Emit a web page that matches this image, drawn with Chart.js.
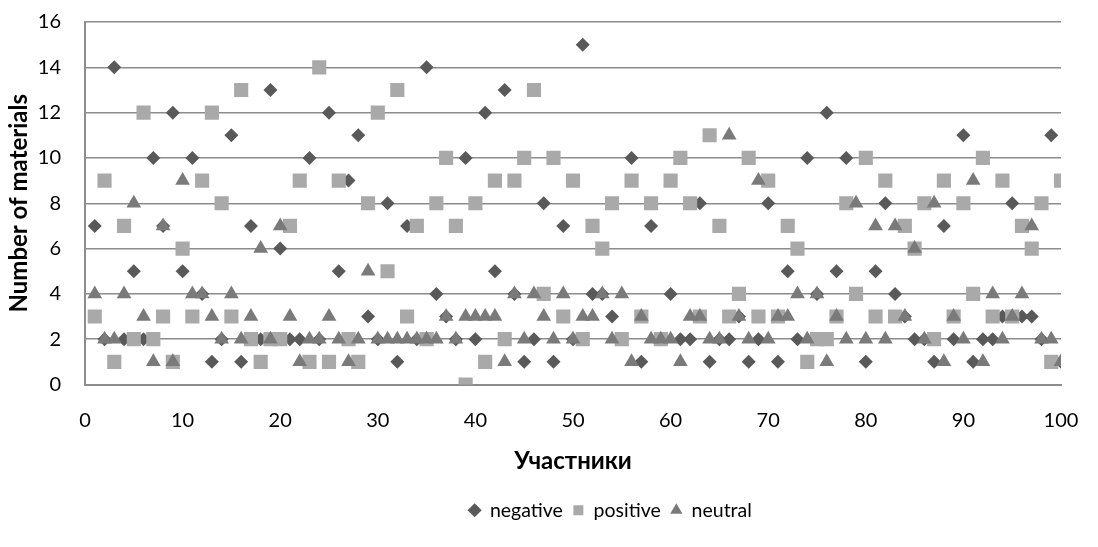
<!DOCTYPE html>
<html>
<head>
<meta charset="utf-8">
<script src="https://cdn.jsdelivr.net/npm/chart.js@4"></script>
<style>
  html, body { margin: 0; padding: 0; background: #ffffff; }
  #wrap { width: 1098px; height: 547px; position: relative; }
</style>
</head>
<body>
<div id="wrap"><canvas id="c" width="1098" height="547"></canvas></div>
<script>
// Participants 1..100
const participants = [];
for (let i = 1; i <= 100; i++) participants.push(i);

const negativeValues = [
  7, 2, 14, 2, 5, 2, 10, 7, 12, 5,
  10, 4, 1, 2, 11, 1, 7, 2, 13, 6,
  2, 2, 10, 2, 12, 5, 9, 11, 3, 2,
  8, 1, 7, 2, 14, 4, 3, 2, 10, 2,
  12, 5, 13, 4, 1, 2, 8, 1, 7, 2,
  15, 4, 4, 3, 2, 10, 1, 7, 2, 4,
  2, 2, 8, 1, 2, 2, 3, 1, 2, 8,
  1, 5, 2, 10, 4, 12, 5, 10, 4, 1,
  5, 8, 4, 3, 2, 2, 1, 7, 2, 11,
  1, 2, 2, 3, 8, 3, 3, 2, 11, 1
];

const positiveValues = [
  3, 9, 1, 7, 2, 12, 2, 3, 1, 6,
  3, 9, 12, 8, 3, 13, 2, 1, 2, 2,
  7, 9, 1, 14, 1, 9, 2, 1, 8, 12,
  5, 13, 3, 7, 2, 8, 10, 7, 0, 8,
  1, 9, 2, 9, 10, 13, 4, 10, 3, 9,
  2, 7, 6, 8, 2, 9, 3, 8, 2, 9,
  10, 8, 3, 11, 7, 3, 4, 10, 3, 9,
  3, 7, 6, 1, 2, 2, 3, 8, 4, 10,
  3, 9, 3, 7, 6, 8, 2, 9, 3, 8,
  4, 10, 3, 9, 3, 7, 6, 8, 1, 9
];

const neutralValues = [
  4, 2, 2, 4, 8, 3, 1, 7, 1, 9,
  4, 4, 3, 2, 4, 2, 3, 6, 2, 7,
  3, 1, 2, 2, 3, 2, 1, 2, 5, 2,
  2, 2, 2, 2, 2, 2, 3, 2, 3, 3,
  3, 3, 1, 4, 2, 4, 3, 2, 4, 2,
  3, 3, 4, 2, 4, 1, 3, 2, 2, 2,
  1, 3, 3, 2, 2, 11, 3, 2, 9, 2,
  3, 3, 4, 2, 4, 1, 3, 2, 8, 2,
  7, 2, 7, 3, 6, 2, 8, 1, 3, 2,
  9, 1, 4, 2, 3, 4, 7, 2, 2, 1
];

const seriesNames = ['negative', 'positive', 'neutral'];
const xTicks = [0, 10, 20, 30, 40, 50, 60, 70, 80, 90, 100];
const yTicks = [0, 2, 4, 6, 8, 10, 12, 14, 16];
const xTitle = 'Участники';
const yTitle = 'Number of materials';

function toPoints(vals) {
  return vals.map((v, i) => ({ x: participants[i], y: v }));
}

const FONT = 'Lato, "Open Sans", sans-serif';
const gridColor = '#8c8c8c';

// shift the legend horizontally to sit where the reference has it
const legendShift = {
  id: 'legendShift',
  afterLayout(chart) {
    const lg = chart.legend;
    if (lg) { lg.left += 80; lg.right += 80; }
  }
};

new Chart(document.getElementById('c'), {
  type: 'scatter',
  plugins: [legendShift],
  data: {
    datasets: [
      {
        label: seriesNames[0],
        data: toPoints(negativeValues),
        pointStyle: 'rectRot',
        pointRadius: 7,
        pointHoverRadius: 7,
        backgroundColor: '#595959',
        borderColor: '#595959',
        borderWidth: 0,
        order: 3
      },
      {
        label: seriesNames[1],
        data: toPoints(positiveValues),
        pointStyle: 'rect',
        pointRadius: 10,
        pointHoverRadius: 10,
        backgroundColor: '#a9a9a9',
        borderColor: '#a9a9a9',
        borderWidth: 0,
        order: 2
      },
      {
        label: seriesNames[2],
        data: toPoints(neutralValues),
        pointStyle: 'triangle',
        pointRadius: 8.5,
        pointHoverRadius: 8.5,
        backgroundColor: '#7a7a7a',
        borderColor: '#7a7a7a',
        borderWidth: 0,
        order: 1
      }
    ]
  },
  options: {
    responsive: false,
    animation: false,
    devicePixelRatio: 1,
    layout: { padding: { left: 0, right: 37, top: 22, bottom: 17 } },
    plugins: {
      tooltip: { enabled: false },
      legend: {
        position: 'bottom',
        reverse: true,
        labels: {
          usePointStyle: true,
          boxWidth: 11,
          boxHeight: 10,
          padding: 10,
          color: '#000000',
          font: { family: FONT, size: 19.5 }
        }
      }
    },
    scales: {
      x: {
        type: 'linear',
        min: 0,
        max: 100,
        afterBuildTicks: (scale) => { scale.ticks = xTicks.map(v => ({ value: v })); },
        afterFit: (scale) => { scale.height = 106; scale.paddingLeft = 0; scale.paddingRight = 0; },
        grid: { display: false, drawTicks: false },
        border: { display: true, color: gridColor, width: 2 },
        ticks: {
          padding: 24,
          color: '#000000',
          font: { family: FONT, size: 20 },
          maxRotation: 0,
          autoSkip: false
        },
        title: {
          display: true,
          text: xTitle,
          color: '#000000',
          font: { family: FONT, size: 24, weight: 'bold' },
          padding: { top: 0, bottom: 15 }
        }
      },
      y: {
        type: 'linear',
        min: 0,
        max: 16,
        afterBuildTicks: (scale) => { scale.ticks = yTicks.map(v => ({ value: v })); },
        afterFit: (scale) => { scale.width = 85; scale.paddingTop = 0; scale.paddingBottom = 0; },
        grid: { display: true, color: gridColor, lineWidth: 1.5, drawTicks: false },
        border: { display: true, color: gridColor, width: 2 },
        ticks: {
          padding: 24,
          color: '#000000',
          font: { family: FONT, size: 20 },
          autoSkip: false
        },
        title: {
          display: true,
          text: yTitle,
          color: '#000000',
          font: { family: FONT, size: 24, weight: 'bold' },
          padding: { top: 5, bottom: 0 }
        }
      }
    }
  }
});
</script>
</body>
</html>
